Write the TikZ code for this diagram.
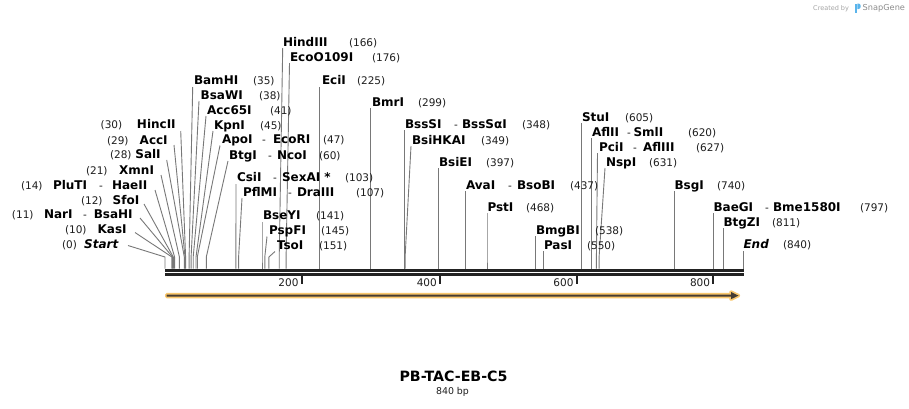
\documentclass[tikz,border=0pt]{standalone}
\usepackage{fontspec}
\setmainfont{DejaVu Sans}
\definecolor{cutgray}{RGB}{120,120,120}
\definecolor{seqblack}{RGB}{34,34,34}
\definecolor{numcol}{RGB}{30,30,30}
\definecolor{featorange}{RGB}{250,200,110}
\definecolor{featdark}{RGB}{70,60,50}
\definecolor{credgray}{RGB}{165,165,165}
\definecolor{logoblue}{RGB}{90,180,235}
\tikzset{
  enz/.style={font=\fontsize{12}{12}\selectfont\bfseries, anchor=base west, inner sep=0pt, outer sep=0pt, text=black},
  enzR/.style={enz, anchor=base east},
  enzI/.style={enz, font=\fontsize{12}{12}\selectfont\bfseries\itshape},
  num/.style={font=\fontsize{10.5}{10.5}\selectfont, anchor=base west, inner sep=0pt, outer sep=0pt, text=numcol},
  ticklab/.style={num, anchor=base east},
  cutline/.style={draw=cutgray, line width=0.9pt},
  seqline/.style={draw=seqblack, line width=2.6pt},
  tickmark/.style={draw=seqblack, line width=2pt},
}
% id, cut x, top x, top y
\newcommand\cs[4]{%
  \coordinate (#1t) at (#3,#4);
  \coordinate (#1b) at (#2,257);
  \coordinate (#1c) at (#2,268.6);
  \draw[cutline] (#1t) -- (#1b) -- (#1c);}
\begin{document}
\begin{tikzpicture}[x=1pt,y=-1pt]
\fill[white] (0,0) rectangle (909,408);
\useasboundingbox (0,0) rectangle (909,408);

% ---------- cut lines ----------
\cs{s0}{165}{128}{245.5}
\cs{s10}{171.9}{135}{232.5}
\cs{s11}{172.6}{140}{218}
\cs{s12}{173.3}{144}{204}
\cs{s14}{174.6}{155}{190}
\cs{s21}{179.4}{161}{175}
\cs{s28}{184.3}{166.7}{160}
\cs{s29}{185}{174}{145}
\cs{s30}{185.6}{180.7}{131}
\cs{s35}{189.1}{192.7}{87}
\cs{s38}{191.1}{199}{101}
\cs{s41}{193.2}{206}{116}
\cs{s45}{196}{213}{131}
\cs{s47}{197.3}{220}{145.5}
\cs{s60}{206.3}{228}{161}
\cs{s103}{235.9}{236}{184}
\cs{s107}{238.6}{242}{198}
\cs{s141}{262}{262}{222}
\cs{s145}{264.8}{267}{236.5}
\cs{s151}{268.9}{275}{251.5}
\cs{s166}{279.2}{282.7}{48}
\cs{s176}{286.1}{289.5}{63}
\cs{s225}{319.8}{319.8}{87}
\cs{s299}{370.7}{370.7}{108}
\cs{s348}{404.4}{404.4}{130}
\cs{s349}{405.1}{411}{146}
\cs{s397}{438.1}{438.1}{168}
\cs{s437}{465.7}{465.7}{191}
\cs{s468}{487}{487}{213}
\cs{s538}{535.1}{535.1}{236}
\cs{s550}{543.4}{543.4}{251}
\cs{s605}{581.2}{581.2}{123}
\cs{s620}{591.6}{591.6}{138}
\cs{s627}{596.4}{597.5}{153}
\cs{s631}{599.1}{605}{168}
\cs{s740}{674.1}{674.1}{191}
\cs{s797}{713.3}{713.3}{213}
\cs{s811}{723}{723}{228}
\cs{s840}{743}{743}{251}

% ---------- sequence ----------
\draw[seqline] (165,270.3) -- (743.5,270.3);
\draw[seqline] (165,274.5) -- (743.5,274.5);
\draw[tickmark] (301.7,275.5) -- (301.7,283.5);
\draw[tickmark] (440,275.5) -- (440,283.5);
\draw[tickmark] (576.7,275.5) -- (576.7,283.5);
\draw[tickmark] (713.3,275.5) -- (713.3,283.5);
\node[ticklab] (t200) at (298.5,286) {200};
\node[ticklab] (t400) at (436.8,286) {400};
\node[ticklab] (t600) at (573.5,286) {600};
\node[ticklab] (t800) at (710.1,286) {800};

% ---------- feature arrow ----------
\filldraw[draw=featorange, fill=featorange, line width=3.4pt, line join=round]
  (166.7,294.5) -- (731,294.5) -- (731,292) -- (738.5,295.6) -- (731,299.2) -- (731,296.7) -- (166.7,296.7) -- cycle;
\fill[featdark]
  (166.7,294.5) -- (731,294.5) -- (731,292) -- (738.5,295.6) -- (731,299.2) -- (731,296.7) -- (166.7,296.7) -- cycle;

% ---------- left cluster ----------
\node[num] (p0) at (62,248.3) {(0)};
\node[enzI, anchor=base east] (n0) at (118.3,248.3) {Start};
\node[num] (p10) at (65,233.3) {(10)};
\node[enzR] (n10) at (126.7,233.3) {KasI};
\node[num] (p11) at (12,218.3) {(11)};
\node[enz] (n11) at (44,218.3) {NarI};
\node[num] (d11) at (83,218.3) {-};
\node[enzR] (m11) at (132.7,218.3) {BsaHI};
\node[num] (p12) at (81,204.3) {(12)};
\node[enzR] (n12) at (139.3,204.3) {SfoI};
\node[num] (p14) at (21,189.3) {(14)};
\node[enz] (n14) at (53,189.3) {PluTI};
\node[num] (d14) at (99,189.3) {-};
\node[enzR] (m14) at (147.3,189.3) {HaeII};
\node[num] (p21) at (86,174.3) {(21)};
\node[enzR] (n21) at (154,174.3) {XmnI};
\node[num] (p28) at (110,158.3) {(28)};
\node[enzR] (n28) at (160.7,158.3) {SalI};
\node[num] (p29) at (107,144.3) {(29)};
\node[enzR] (n29) at (167.7,144.3) {AccI};
\node[num] (p30) at (100.7,128.3) {(30)};
\node[enzR] (n30) at (175.7,128.3) {HincII};

% ---------- upper-left cluster ----------
\node[enz] (n35) at (194,84.3) {BamHI};
\node[num] (p35) at (253,84.3) {(35)};
\node[enz] (n38) at (200.7,99.3) {BsaWI};
\node[num] (p38) at (259,99.3) {(38)};
\node[enz] (n41) at (207,114.3) {Acc65I};
\node[num] (p41) at (270,114.3) {(41)};
\node[enz] (n45) at (214,129.3) {KpnI};
\node[num] (p45) at (260,129.3) {(45)};
\node[enz] (n47) at (222,143.3) {ApoI};
\node[num] (d47) at (262,143.3) {-};
\node[enz] (m47) at (273,143.3) {EcoRI};
\node[num] (p47) at (323,143.3) {(47)};
\node[enz] (n60) at (229,159.3) {BtgI};
\node[num] (d60) at (268,159.3) {-};
\node[enz] (m60) at (277,159.3) {NcoI};
\node[num] (p60) at (319,159.3) {(60)};

\node[enz] (n166) at (283,46.3) {HindIII};
\node[num] (p166) at (349,46.3) {(166)};
\node[enz] (n176) at (290,61.3) {EcoO109I};
\node[num] (p176) at (372,61.3) {(176)};
\node[enz] (n225) at (322,84.3) {EciI};
\node[num] (p225) at (357,84.3) {(225)};

% ---------- middle cluster ----------
\node[enz] (n103) at (237,181.3) {CsiI};
\node[num] (d103) at (273,181.3) {-};
\node[enz] (m103) at (282,181.3) {SexAI *};
\node[num] (p103) at (345,181.3) {(103)};
\node[enz] (n107) at (243,196.3) {PflMI};
\node[num] (d107) at (288,196.3) {-};
\node[enz] (m107) at (297,196.3) {DraIII};
\node[num] (p107) at (356,196.3) {(107)};
\node[enz] (n141) at (263,219.3) {BseYI};
\node[num] (p141) at (316,219.3) {(141)};
\node[enz] (n145) at (269,234.3) {PspFI};
\node[num] (p145) at (321,234.3) {(145)};
\node[enz] (n151) at (277,249.3) {TsoI};
\node[num] (p151) at (319,249.3) {(151)};

\node[enz] (n299) at (372,106.3) {BmrI};
\node[num] (p299) at (418,106.3) {(299)};
\node[enz] (n348) at (405,128.3) {BssSI};
\node[num] (d348) at (454,128.3) {-};
\node[enz] (m348) at (462,128.3) {BssSαI};
\node[num] (p348) at (522,128.3) {(348)};
\node[enz] (n349) at (412,144.3) {BsiHKAI};
\node[num] (p349) at (481,144.3) {(349)};
\node[enz] (n397) at (439,166.3) {BsiEI};
\node[num] (p397) at (486,166.3) {(397)};
\node[enz] (n437) at (466,189.3) {AvaI};
\node[num] (d437) at (508,189.3) {-};
\node[enz] (m437) at (517,189.3) {BsoBI};
\node[num] (p437) at (570,189.3) {(437)};
\node[enz] (n468) at (487.5,211.3) {PstI};
\node[num] (p468) at (526,211.3) {(468)};
\node[enz] (n538) at (536,234.3) {BmgBI};
\node[num] (p538) at (595,234.3) {(538)};
\node[enz] (n550) at (544,249.3) {PasI};
\node[num] (p550) at (587,249.3) {(550)};

% ---------- right cluster ----------
\node[enz] (n605) at (582,121.3) {StuI};
\node[num] (p605) at (625,121.3) {(605)};
\node[enz] (n620) at (592,136.3) {AflII};
\node[num] (d620) at (627,136.3) {-};
\node[enz] (m620) at (633.5,136.3) {SmlI};
\node[num] (p620) at (688,136.3) {(620)};
\node[enz] (n627) at (599,151.3) {PciI};
\node[num] (d627) at (633,151.3) {-};
\node[enz] (m627) at (643,151.3) {AflIII};
\node[num] (p627) at (696,151.3) {(627)};
\node[enz] (n631) at (606,166.3) {NspI};
\node[num] (p631) at (649,166.3) {(631)};
\node[enz] (n740) at (674.5,189.3) {BsgI};
\node[num] (p740) at (717,189.3) {(740)};
\node[enz] (n797) at (713.5,211.3) {BaeGI};
\node[num] (d797) at (765,211.3) {-};
\node[enz] (m797) at (773,211.3) {Bme1580I};
\node[num] (p797) at (860,211.3) {(797)};
\node[enz] (n811) at (723.5,226.3) {BtgZI};
\node[num] (p811) at (772,226.3) {(811)};
\node[enzI] (n840) at (743.5,248.3) {End};
\node[num] (p840) at (783,248.3) {(840)};

% ---------- title ----------
\node[font=\fontsize{14.2}{14}\selectfont\bfseries, anchor=base, inner sep=0pt] (title) at (453.5,381.2) {PB-TAC-EB-C5};
\node[font=\fontsize{9.4}{9}\selectfont, anchor=base, inner sep=0pt, text=numcol] (len) at (452.5,394.5) {840 bp};

% ---------- credit ----------
\node[font=\fontsize{6.5}{6}\selectfont, text=credgray, anchor=base west, inner sep=0pt] (cr1) at (813,10) {Created by};
\fill[logoblue] (855,3.5) rectangle (857.3,13);
\fill[logoblue] (857.3,3.5) -- (858.6,3.5) .. controls (861.4,3.5) and (861.4,9) .. (858.6,9) -- (857.3,9) -- cycle;
\node[font=\fontsize{8.2}{8}\selectfont, text=credgray!85!black, anchor=base west, inner sep=0pt] (cr2) at (862.5,10.5) {SnapGene};
\end{tikzpicture}
\end{document}
